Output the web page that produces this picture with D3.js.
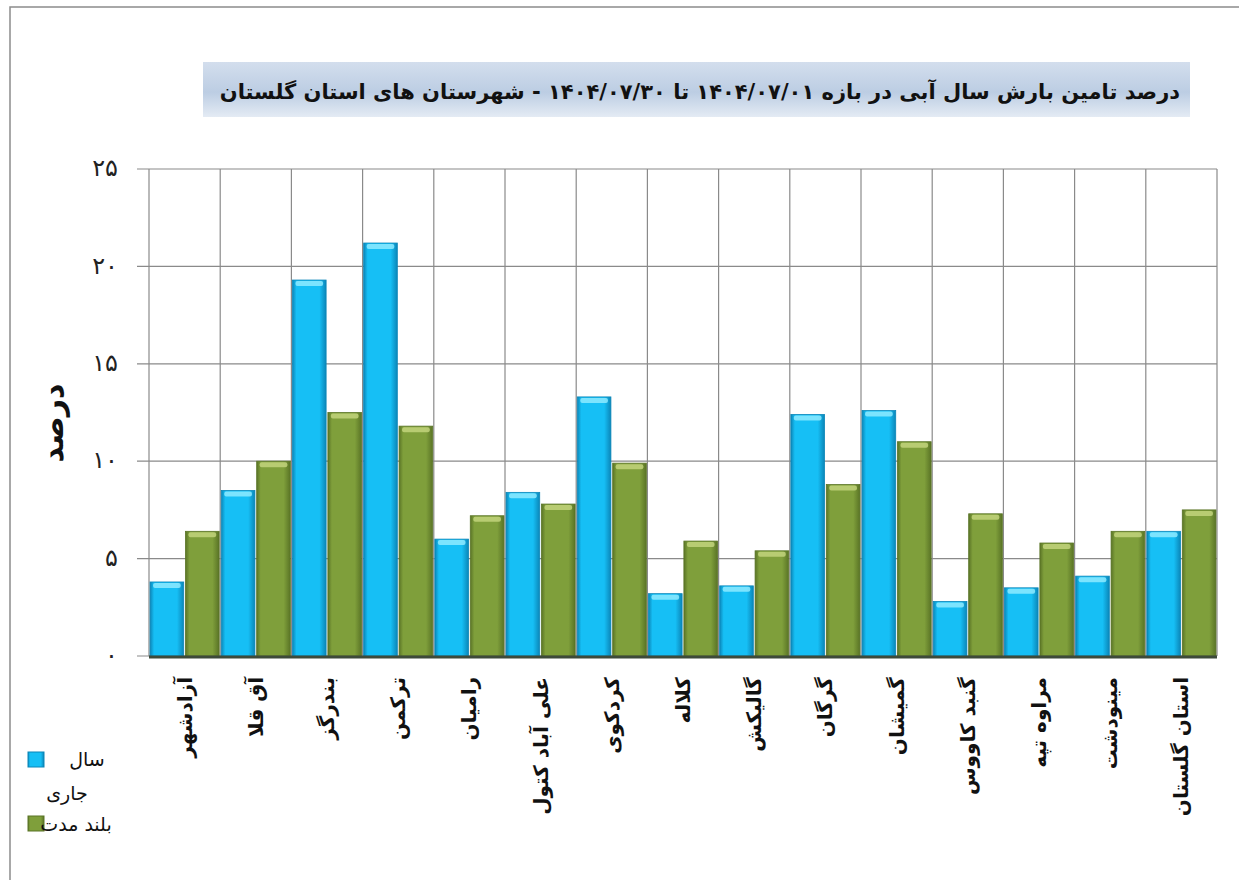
<!DOCTYPE html>
<html lang="fa">
<head>
    <meta charset="UTF-8">
    <title>درصد تامین بارش سال آبی</title>
    <script src="https://d3js.org/d3.v7.min.js"></script>
    <style>
        body { margin: 0; background: #fff; }
        svg text { font-family: "DejaVu Sans", sans-serif; }
        .grid line { stroke: #8a8a8a; stroke-width: 1.2; }
        .ytick { font-size: 24px; fill: #222; }
        .xlabel { font-size: 20px; font-weight: bold; fill: #111; }
        .legend text { font-size: 19px; fill: #111; }
    </style>
</head>
<body>
<svg width="1239" height="880"></svg>

<script>
    // داده ها
    const categories = [
        "آزادشهر", "آق قلا", "بندرگز", "ترکمن", "رامیان", "علی آباد کتول",
        "کردکوی", "کلاله", "گالیکش", "گرگان", "گمیشان", "گنبد کاووس",
        "مراوه تپه", "مینودشت", "استان گلستان"
    ];
    const currentYear = [3.8, 8.5, 19.3, 21.2, 6.0, 8.4, 13.3, 3.2, 3.6, 12.4, 12.6, 2.8, 3.5, 4.1, 6.4];
    const longTerm    = [6.4, 10.0, 12.5, 11.8, 7.2, 7.8, 9.9, 5.9, 5.4, 8.8, 11.0, 7.3, 5.8, 6.4, 7.5];
    const seriesNames = ["سال جاری", "بلند مدت"];
    const yTicks = [0, 5, 10, 15, 20, 25];
    const title = "درصد تامین بارش سال آبی در بازه  ۱۴۰۴/۰۷/۰۱ تا ۱۴۰۴/۰۷/۳۰  - شهرستان های استان گلستان";
    const yTitle = "درصد";

    const svg = d3.select("svg");
    const margin = { left: 149, right: 1217, top: 169, bottom: 656 };

    // قاب بیرونی
    svg.append("rect")
        .attr("x", 10).attr("y", 7)
        .attr("width", 1250).attr("height", 900)
        .attr("fill", "#fff")
        .attr("stroke", "#8c8c8c")
        .attr("stroke-width", 1.5);

    const defs = svg.append("defs");

    // گرادیان ها
    const titleGrad = defs.append("linearGradient")
        .attr("id", "titleGrad").attr("x1", 0).attr("y1", 0).attr("x2", 0).attr("y2", 1);
    titleGrad.append("stop").attr("offset", "0%").attr("stop-color", "#d3deed");
    titleGrad.append("stop").attr("offset", "55%").attr("stop-color", "#bccde3");
    titleGrad.append("stop").attr("offset", "100%").attr("stop-color", "#e4ebf4");

    const colors = [
        { id: "gBlue", edge: "#0b86b8", mid: "#16bff5", cap: "#8eeaff" },
        { id: "gGreen", edge: "#5a7426", mid: "#7f9f3b", cap: "#c2d47c" }
    ];
    colors.forEach(c => {
        const g = defs.append("linearGradient")
            .attr("id", c.id).attr("x1", 0).attr("y1", 0).attr("x2", 1).attr("y2", 0);
        g.append("stop").attr("offset", "0%").attr("stop-color", c.edge);
        g.append("stop").attr("offset", "12%").attr("stop-color", c.mid);
        g.append("stop").attr("offset", "80%").attr("stop-color", c.mid);
        g.append("stop").attr("offset", "100%").attr("stop-color", c.edge);
    });

    // عنوان
    svg.append("rect")
        .attr("x", 203).attr("y", 62)
        .attr("width", 987).attr("height", 55)
        .attr("fill", "url(#titleGrad)");
    svg.append("text")
        .attr("x", 1180).attr("y", 99)
        .attr("direction", "rtl")
        .attr("text-anchor", "start")
        .attr("font-size", 21)
        .attr("font-weight", "bold")
        .attr("fill", "#111")
        .text(title);

    // مقیاس ها
    const x = d3.scaleBand()
        .domain(categories)
        .range([margin.left, margin.right])
        .paddingInner(0).paddingOuter(0);

    const xInner = d3.scaleBand()
        .domain(seriesNames)
        .range([0, x.bandwidth()])
        .paddingInner(0.05).paddingOuter(0.03);

    const y = d3.scaleLinear()
        .domain([0, 25])
        .range([margin.bottom, margin.top]);

    const toFa = s => String(s).replace(/\d/g, d => "۰۱۲۳۴۵۶۷۸۹"[d]);

    // خطوط شبکه
    const grid = svg.append("g").attr("class", "grid");
    grid.selectAll(".h")
        .data(yTicks)
        .enter().append("line")
        .attr("x1", margin.left - 12).attr("x2", margin.right)
        .attr("y1", d => y(d)).attr("y2", d => y(d));
    grid.selectAll(".v")
        .data(categories.concat(["_end"]))
        .enter().append("line")
        .attr("x1", (d, i) => i < categories.length ? x(d) : margin.right)
        .attr("x2", (d, i) => i < categories.length ? x(d) : margin.right)
        .attr("y1", margin.top).attr("y2", margin.bottom);

    // برچسب های محور y
    svg.append("g").selectAll("text")
        .data(yTicks)
        .enter().append("text")
        .attr("class", "ytick")
        .attr("x", 118)
        .attr("y", d => y(d))
        .attr("dy", "0.3em")
        .attr("text-anchor", "end")
        .text(d => toFa(d));

    svg.append("text")
        .attr("transform", "translate(52,423) rotate(-90)")
        .attr("text-anchor", "middle")
        .attr("dy", "0.35em")
        .attr("font-size", 30)
        .attr("font-weight", "bold")
        .attr("fill", "#111")
        .text(yTitle);

    // میله ها
    const rows = categories.map((c, i) => ({ cat: c, values: [currentYear[i], longTerm[i]] }));
    const groups = svg.append("g").selectAll("g")
        .data(rows)
        .enter().append("g")
        .attr("transform", d => `translate(${x(d.cat)},0)`);

    const bars = groups.selectAll("g")
        .data(d => d.values.map((v, k) => ({ key: seriesNames[k], v: v, k: k })))
        .enter().append("g");

    bars.append("rect")
        .attr("x", d => xInner(d.key))
        .attr("y", d => y(d.v))
        .attr("width", xInner.bandwidth())
        .attr("height", d => y(0) - y(d.v))
        .attr("fill", d => `url(#${colors[d.k].id})`)
        .attr("stroke", d => colors[d.k].edge)
        .attr("stroke-width", 0.8);

    bars.append("rect")
        .attr("x", d => xInner(d.key) + 3)
        .attr("y", d => y(d.v) + 1)
        .attr("width", xInner.bandwidth() - 6)
        .attr("height", 5)
        .attr("rx", 2)
        .attr("fill", d => colors[d.k].cap)
        .attr("opacity", 0.85);

    // خط پایه
    svg.append("line")
        .attr("x1", margin.left).attr("x2", margin.right)
        .attr("y1", y(0) + 1).attr("y2", y(0) + 1)
        .attr("stroke", "#3d4a3a")
        .attr("stroke-width", 3);

    // برچسب های محور x
    svg.append("g").selectAll("text")
        .data(categories)
        .enter().append("text")
        .attr("class", "xlabel")
        .attr("transform", d => `translate(${x(d) + x.bandwidth() / 2},677) rotate(-90)`)
        .attr("direction", "rtl")
        .attr("text-anchor", "start")
        .attr("dy", "0.35em")
        .text(d => d);

    // راهنما
    const legend = svg.append("g").attr("class", "legend");
    const legendItems = [
        { sq: [28, 752], lines: [["سال", 87, 766], ["جاری", 67, 800]] },
        { sq: [28, 816], lines: [["بلند مدت", 76, 831]] }
    ];
    legendItems.forEach((item, k) => {
        legend.append("rect")
            .attr("x", item.sq[0]).attr("y", item.sq[1])
            .attr("width", 16).attr("height", 15)
            .attr("fill", `url(#${colors[k].id})`)
            .attr("stroke", colors[k].edge);
        item.lines.forEach(l => {
            legend.append("text")
                .attr("x", l[1]).attr("y", l[2])
                .attr("text-anchor", "middle")
                .text(l[0]);
        });
    });
</script>

</body>
</html>
